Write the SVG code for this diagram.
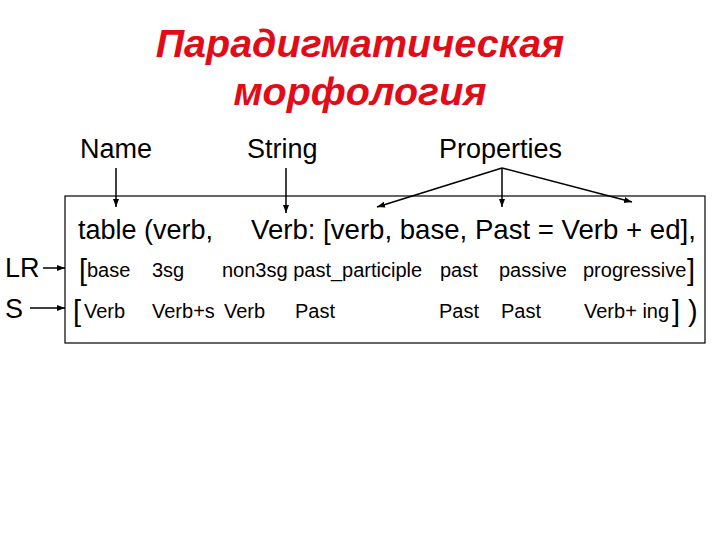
<svg xmlns="http://www.w3.org/2000/svg" width="720" height="540" viewBox="0 0 720 540">
<defs>
<marker id="ah" markerWidth="9" markerHeight="9" refX="8" refY="4.5" orient="auto" markerUnits="userSpaceOnUse">
<path d="M0,1.5 L8,4.5 L0,7.5 Z" fill="#000"/>
</marker>
<style>
.t{font-family:"Liberation Sans",Arial,sans-serif;fill:#000}
.big{font-size:27px}
.sm{font-size:20px}
.br{font-size:29px}
.title{font-family:"Liberation Sans",Arial,sans-serif;font-size:39.5px;font-weight:bold;font-style:italic;fill:#e20c18;text-anchor:middle}
.c{stroke:#000;stroke-width:1.5;fill:none;marker-end:url(#ah)}
</style>
</defs>
<rect width="720" height="540" fill="#fff"/>
<g id="title">
<text class="title" x="360" y="57">Парадигматическая</text>
<text class="title" x="360" y="105">морфология</text>
</g>
<g id="headers">
<text class="t big" x="80" y="158">Name</text>
<text class="t big" x="247" y="158">String</text>
<text class="t big" x="439" y="158">Properties</text>
</g>
<g id="box">
<rect x="65" y="196" width="640" height="147" fill="none" stroke="#000" stroke-width="1.2"/>
<text class="t big" x="78" y="239">table (verb,</text>
<text class="t big" x="251" y="239" style="font-size:27.6px">Verb: [verb, base, Past = Verb + ed],</text>
<g id="lr-row">
<text class="t br" x="79" y="280">[</text>
<text class="t sm" x="87" y="277">base</text>
<text class="t sm" x="152" y="277">3sg</text>
<text class="t sm" x="222" y="277">non3sg past_participle</text>
<text class="t sm" x="440" y="277">past</text>
<text class="t sm" x="499" y="277">passive</text>
<text class="t sm" x="583" y="277">progressive</text>
<text class="t br" x="687" y="280">]</text>
</g>
<g id="s-row">
<text class="t br" x="73" y="321">[</text>
<text class="t sm" x="84" y="318">Verb</text>
<text class="t sm" x="152" y="318">Verb+s</text>
<text class="t sm" x="224" y="318">Verb</text>
<text class="t sm" x="295" y="318">Past</text>
<text class="t sm" x="439" y="318">Past</text>
<text class="t sm" x="501" y="318">Past</text>
<text class="t sm" x="584" y="318">Verb+ ing</text>
<text class="t br" x="672" y="321">]</text>
<text class="t br" x="688" y="321">)</text>
</g>
</g>
<g id="LR"><text class="t big" x="5" y="277">LR</text></g>
<g id="S"><text class="t big" x="5" y="318">S</text></g>
<g id="connectors">
<line class="c" x1="116" y1="168" x2="116" y2="207"/>
<line class="c" x1="286" y1="168" x2="286" y2="213"/>
<line class="c" x1="502" y1="168" x2="377" y2="207"/>
<line class="c" x1="502" y1="168" x2="502" y2="207"/>
<line class="c" x1="502" y1="168" x2="632" y2="202"/>
<line class="c" x1="43" y1="268" x2="65" y2="268"/>
<line class="c" x1="30" y1="308" x2="65" y2="308"/>
</g>
</svg>
